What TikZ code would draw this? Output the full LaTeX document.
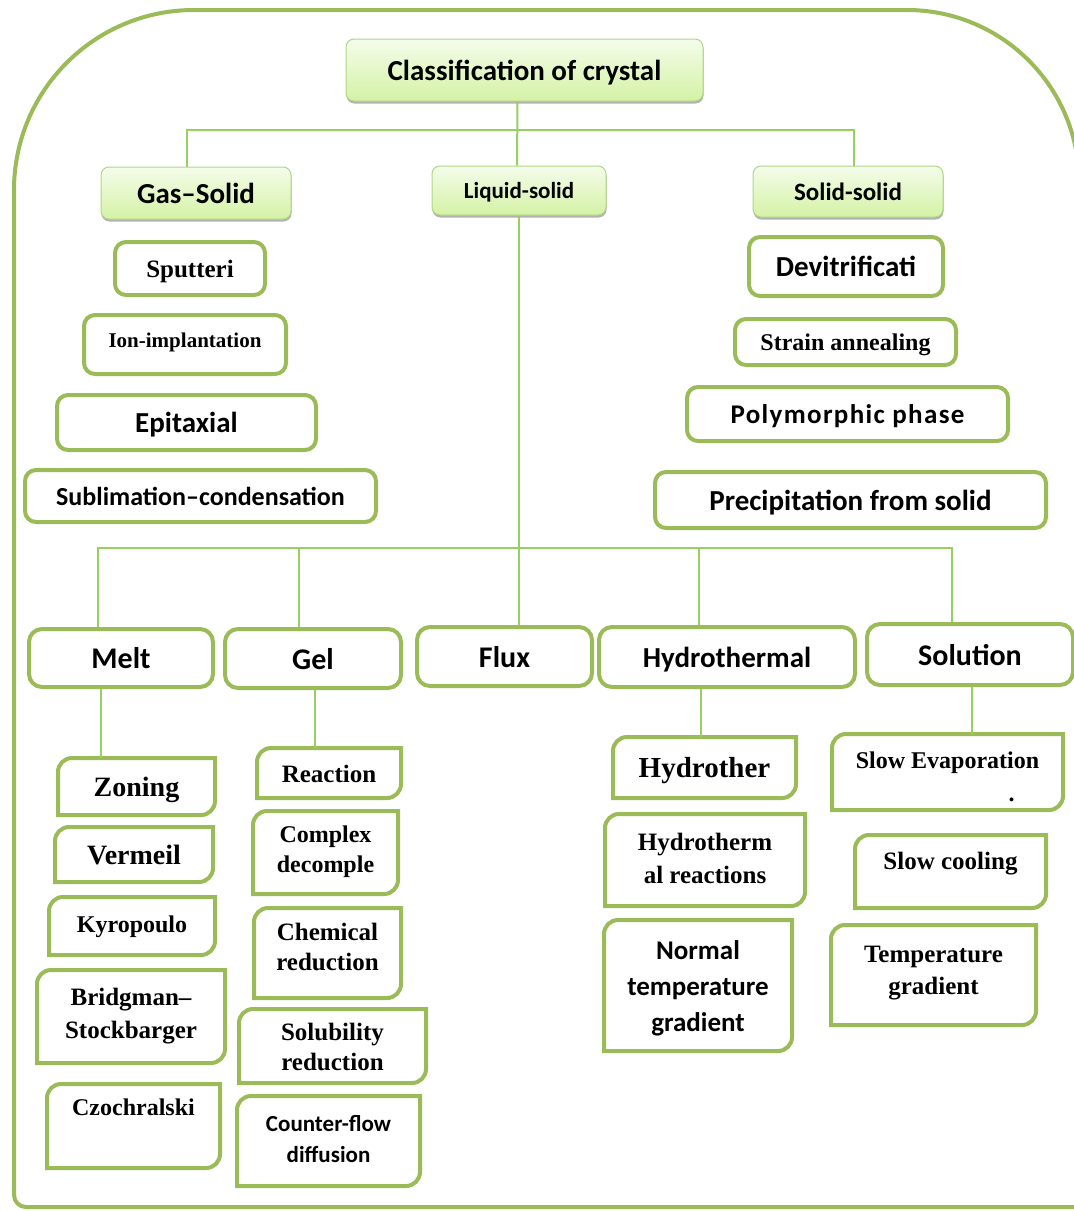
\documentclass[tikz,border=0pt]{standalone}
\usepackage{fontspec}
\newfontfamily\calfont{Carlito}
\newfontfamily\serfont{Liberation Serif}
\usetikzlibrary{shadows,calc}
\definecolor{frameG}{RGB}{155,187,89}
\definecolor{lineG}{RGB}{150,208,96}
\definecolor{hdrTop}{RGB}{245,252,235}
\definecolor{hdrBot}{RGB}{212,242,165}
\definecolor{hdrLine}{RGB}{176,214,134}
\newcommand\mytl[2]{\raisebox{\dimexpr#1-3pt\relax}[\height][\depth]{\begin{tabular}{@{}c@{}}#2\end{tabular}}}
\newcommand\snipdraw[2][14pt]{\draw[snipline] (#2.south west) -- ([yshift=-#1]#2.north west) arc[start angle=180,end angle=90,radius=#1] -- (#2.north east) -- ([yshift=#1]#2.south east) arc[start angle=0,end angle=-90,radius=#1] -- cycle;}
\begin{document}
\begin{tikzpicture}[x=1pt,y=-1pt,
 hdr/.style={draw=hdrLine, line width=1pt, rounded corners=8pt, top color=hdrTop, bottom color=hdrBot,
   drop shadow={shadow xshift=0.5pt, shadow yshift=-2.5pt, opacity=0.3, fill=black}, inner sep=0pt, text depth=0pt},
 rbox/.style={draw=frameG, line width=4pt, rounded corners=11pt, fill=white, inner sep=0pt, text depth=0pt},
 sbox/.style={fill=white, inner sep=0pt, outer sep=0pt},
 snipline/.style={draw=frameG, line width=4pt},
 conn/.style={draw=lineG, line width=2pt},
 frame/.style={draw=frameG, line width=4pt},
 ss/.style 2 args={font=\calfont\bfseries\fontsize{#1}{#2}\selectfont},
 rm/.style 2 args={font=\serfont\bfseries\fontsize{#1}{#2}\selectfont},
 bx/.style 2 args={minimum width={#1pt-4pt}, minimum height={#2pt-4pt}},
 align=center]
\useasboundingbox (0,0) rectangle (1074,1211);
\clip (0,0) rectangle (1074,1211);
\fill[white] (0,0) rectangle (1074,1211);
% frame
\draw[frame] (14,1195) -- (14,190) arc[start angle=180,end angle=90,radius=180pt] -- (907,10)
  arc[start angle=90,end angle=0,radius=172pt] -- (1079,1207) -- (26,1207)
  arc[start angle=270,end angle=180,radius=12pt] -- cycle;

% headers
\node[hdr, ss={29}{34}, bx={361}{66}] (top) at (524.5,70) {Classification of crystal};
\node[hdr, ss={29}{34}, bx={194}{56}] (gas) at (196,193) {Gas–Solid};
\node[hdr, ss={23}{28}, bx={178}{53}] (liq) at (519,190.5) {Liquid-solid};
\node[hdr, ss={25}{30}, bx={194}{55}] (ssd) at (848,191.5) {Solid-solid};

% gas-solid children
\node[rbox, rm={25}{30}, bx={154}{57}] (sput) at (190,268.5) {Sputteri};
\node[rbox, rm={21}{26}, bx={206}{63}] (ion) at (185,344.5) {\mytl{9pt}{Ion-implantation}};
\node[rbox, ss={29}{34}, bx={263}{59}] (epi) at (186.5,422.5) {Epitaxial};
\node[rbox, ss={26}{31}, bx={355}{56}] (subl) at (200.5,496) {Sublimation–condensation};

% solid-solid children
\node[rbox, ss={29}{34}, bx={198}{63}] (dev) at (846,266.5) {Devitrificati};
\node[rbox, rm={24}{29}, bx={225}{50}] (strain) at (845.5,342) {Strain annealing};
\node[rbox, ss={27}{31}, bx={325}{58}] (poly) at (847.5,414) {\addfontfeatures{LetterSpace=5}Polymorphic phase};
\node[rbox, ss={29}{34}, bx={395}{60}] (prec) at (850.5,500) {Precipitation from solid};

% level 2
\node[rbox, rounded corners=13pt, ss={30}{36}, bx={188}{62}] (melt) at (121,658) {Melt};
\node[rbox, rounded corners=13pt, ss={30}{36}, bx={180}{63}] (gel) at (313,658.5) {Gel};
\node[rbox, rounded corners=13pt, ss={30}{36}, bx={179}{63}] (flux) at (504.5,656.5) {Flux};
\node[rbox, rounded corners=13pt, ss={29}{36}, bx={260}{64}] (hyd) at (727,657) {Hydrothermal};
\node[rbox, rounded corners=13pt, ss={30}{36}, bx={210}{65}] (soln) at (970,654.5) {Solution};

% melt children
\node[sbox, rm={28}{34}, bx={161}{61}] (zon) at (136.5,786.5) {\mytl{0pt}{Zoning}};
\node[sbox, rm={28}{34}, bx={162}{59}] (ver) at (134,854.5) {\mytl{0pt}{Vermeil}};
\node[sbox, rm={24}{30}, bx={170}{62}] (kyr) at (132,926) {\mytl{3pt}{Kyropoulo}};
\node[sbox, rm={25}{33}, bx={192}{97}] (brid) at (131,1016.5) {\mytl{4pt}{Bridgman–\\Stockbarger}};
\node[sbox, rm={24}{30}, bx={177}{88}] (czo) at (133.5,1126) {\mytl{20pt}{Czochralski}};

% gel children
\node[sbox, rm={25}{30}, bx={148}{54}] (rea) at (329,773) {\mytl{0pt}{Reaction}};
\node[sbox, rm={24}{30}, bx={149}{87}] (cpx) at (325.5,852.5) {\mytl{4pt}{Complex\\decomple}};
\node[sbox, rm={25}{30}, bx={151}{94}] (chem) at (327.5,953) {\mytl{7pt}{Chemical\\reduction}};
\node[sbox, rm={25}{30}, bx={191}{78}] (solu) at (332.5,1046) {\mytl{0pt}{Solubility\\reduction}};
\node[sbox, ss={23}{31}, bx={187}{94}] (cfd) at (328.5,1141) {\mytl{3pt}{Counter-flow\\diffusion}};

% hydrothermal children
\node[sbox, rm={29}{34}, bx={187}{65}] (hyr) at (704.5,767.5) {\mytl{0pt}{Hydrother}};
\node[sbox, rm={25}{33}, bx={204}{96}] (hyr2) at (705,860) {\mytl{3pt}{Hydrotherm\\al reactions}};
\node[sbox, ss={27}{36}, bx={192}{135}] (ntg) at (698,985.5) {\mytl{0pt}{Normal\\temperature\\gradient}};

% solution children
\node[sbox, rm={24}{30}, bx={235}{80}] (sev) at (947.5,772) {\mytl{-4pt}{Slow Evaporation\\[3pt]\hspace*{128pt}.}};
\node[sbox, rm={25}{30}, bx={195}{77}] (scl) at (950.5,871.5) {\mytl{11pt}{Slow cooling}};
\node[sbox, rm={25}{32}, bx={209}{104}] (tg) at (933.5,975) {\mytl{6pt}{Temperature\\gradient}};

\foreach \n in {zon,ver,kyr,brid,czo,rea,cpx,chem,solu,cfd,hyr,hyr2,ntg,sev,scl,tg}{\snipdraw{\n}}

% connectors top
\coordinate (bus1) at (517,130);
\coordinate (bus2) at (519,548);
\draw[conn] ([xshift=-7pt]top.south) -- ([xshift=-2pt]liq.north);
\draw[conn] ([xshift=-9pt]gas.north) |- (bus1) -| ([xshift=6pt]ssd.north);
% liquid-solid bus
\draw[conn] (liq.south) -- (liq.south |- flux.north);
\draw[conn] ([xshift=-23pt]melt.north) |- (bus2) -| ([xshift=-18pt]soln.north);
\draw[conn] ([xshift=-14pt]gel.north) -- ([xshift=-14pt]gel.north |- bus2);
\draw[conn] ([xshift=-28pt]hyd.north) -- ([xshift=-28pt]hyd.north |- bus2);
% level 2 to children
\draw[conn] ([xshift=-20pt]melt.south) -- ([xshift=-20pt]melt.south |- zon.north);
\draw[conn] ([xshift=2pt]gel.south) -- ([xshift=2pt]gel.south |- rea.north);
\draw[conn] ([xshift=-26pt]hyd.south) -- ([xshift=-26pt]hyd.south |- hyr.north);
\draw[conn] ([xshift=2pt]soln.south) -- ([xshift=2pt]soln.south |- sev.north);
\end{tikzpicture}
\end{document}
